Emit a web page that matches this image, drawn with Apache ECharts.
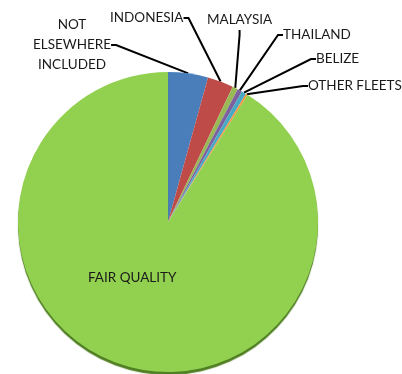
<!DOCTYPE html>
<html><head><meta charset="utf-8">
<script src="https://cdn.jsdelivr.net/npm/echarts@6/dist/echarts.min.js"></script>
<style>html,body{margin:0;padding:0;background:#fff}#c{width:402px;height:374px}</style>
</head><body><div id="c"></div>
<script>
const categories = ['NOT\nELSEWHERE\nINCLUDED','INDONESIA','MALAYSIA','THAILAND','BELIZE','OTHER FLEETS','FAIR QUALITY'];
const values = [4.3, 2.8, 0.6, 0.5, 0.5, 0.2, 91.1];
const colors = ['#4A7EBB','#BE4B48','#98B954','#7D60A0','#46AAC5','#F69240','#92D050'];
// label anchor positions [x, y, align]
const labelPos = [[72,45,'center'],[110,18,'left'],[207,20,'left'],[283,35,'left'],[316,59,'left'],[308,86,'left'],[88,278,'left']];

const chart = echarts.init(document.getElementById('c'));
chart.setOption({
  animation:false,
  series:[{
    type:'pie',
    center:[168,222],
    radius:150,
    startAngle:90,
    clockwise:true,
    silent:true,
    label:{show:true,color:'#1a1a1a',fontFamily:'Lato',fontSize:13.5,lineHeight:20,position:'outside',overflow:'none'},
    labelLine:{show:true,lineStyle:{color:'#000',width:2},length:10,length2:5},
    labelLayout:function(p){
      const lp = labelPos[p.dataIndex];
      return {x:lp[0],y:lp[1],align:lp[2],verticalAlign:'middle'};
    },
    data:categories.map((c,i)=>({
      name:c,value:values[i],
      itemStyle:i===6?{color:colors[i],shadowColor:'#4F7F22',shadowOffsetY:3,shadowBlur:1}:{color:colors[i]},
      label:i===6?{position:'inner'}:undefined,
      labelLine:i===6?{show:false}:undefined
    }))
  }]
});
</script></body></html>
